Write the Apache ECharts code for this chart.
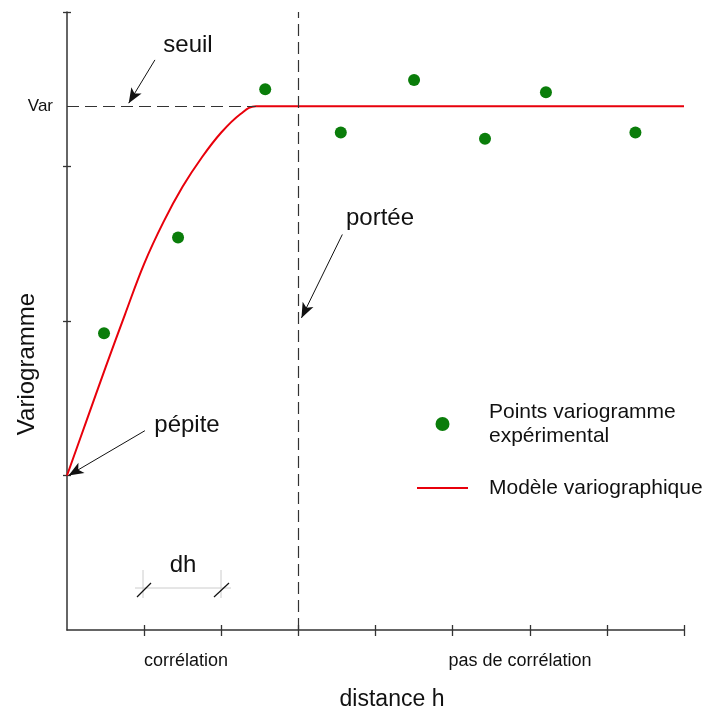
<!DOCTYPE html>
<html>
<head>
<meta charset="utf-8">
<script src="https://cdn.jsdelivr.net/npm/echarts@6/dist/echarts.min.js"></script>
<style>
  html, body { margin: 0; padding: 0; background: #fff; }
  #chart { width: 703px; height: 715px; }
</style>
</head>
<body>
<div id="chart"></div>
<script>
// modèle (courbe rouge)
const modelH = [0, 0.25, 0.5, 0.75, 1.0, 1.25, 1.5, 1.75, 2.0, 2.25, 2.45, 8]
const modelV = [1.0, 1.35, 1.7, 2.04, 2.37, 2.64, 2.87, 3.06, 3.22, 3.34, 3.39, 3.39]
// points du variogramme expérimental
const pointsH = [0.48, 1.44, 2.57, 3.55, 4.5, 5.42, 6.21, 7.37]
const pointsV = [1.92, 2.54, 3.5, 3.22, 3.56, 3.18, 3.48, 3.22]
// niveaux
const varLevel = 3.39
const nuggetLevel = 1.0
const rangeH = 3
const sillEndH = 2.45
// graduations
const xTicks = [1, 2, 3, 4, 5, 6, 7, 8]
const yTicks = [1, 2, 3, 4]

const FONT = 'Liberation Sans, Arial, sans-serif'
const AXIS = '#333'
const DASH = { color: '#333', width: 1.2, type: [12, 6] }
const GREEN = '#0a7d0a'
const RED = '#e8000b'

let myChart = echarts.init(document.getElementById('chart'))

// flèche noire d'annotation
const arrow = function (from, to) {
  const ls = { color: '#111', width: 1, type: 'solid' }
  return [
    { coord: from, symbol: 'none', lineStyle: ls },
    { coord: to, symbol: 'arrow', symbolSize: [9, 15], lineStyle: ls },
  ]
}

const baseX = {
  type: 'value',
  min: 0,
  max: 8,
  interval: 1,
  axisLabel: { show: false },
  splitLine: { show: false },
}
const baseY = {
  type: 'value',
  min: 0,
  max: 4,
  interval: 1,
  axisLabel: { show: false },
  splitLine: { show: false },
}

myChart.setOption({
  animation: false,
  textStyle: { fontFamily: FONT },
  grid: { left: 67, top: 12, width: 617, height: 618 },
  xAxis: [
    Object.assign({}, baseX, {
      axisLine: { lineStyle: { color: AXIS, width: 1.5 } },
      axisTick: { customValues: xTicks, length: 6, lineStyle: { color: AXIS, width: 1.3 } },
    }),
    Object.assign({}, baseX, {
      position: 'bottom',
      axisLine: { show: false },
      axisTick: { customValues: xTicks, inside: true, length: 5, lineStyle: { color: AXIS, width: 1.3 } },
    }),
  ],
  yAxis: [
    Object.assign({}, baseY, {
      axisLine: { lineStyle: { color: AXIS, width: 1.5 } },
      axisTick: { customValues: yTicks, length: 4, lineStyle: { color: AXIS, width: 1.3 } },
    }),
    Object.assign({}, baseY, {
      position: 'left',
      axisLine: { show: false },
      axisTick: { customValues: yTicks, inside: true, length: 4, lineStyle: { color: AXIS, width: 1.3 } },
    }),
  ],
  legend: {
    orient: 'vertical',
    left: 412,
    top: 395,
    itemWidth: 51,
    itemHeight: 14,
    itemGap: 28,
    selectedMode: false,
    data: [
      { name: 'Points variogramme expérimental', icon: 'circle' },
      { name: 'Modèle variographique', icon: 'path://M0,6L51,6L51,8L0,8Z' },
    ],
    formatter: function (name) {
      return name.replace(' expérimental', '\nexpérimental')
    },
    textStyle: {
      fontFamily: FONT,
      fontSize: 21,
      lineHeight: 24,
      color: '#111',
      padding: [0, 0, 0, 16],
    },
  },
  series: [
    {
      name: 'Modèle variographique',
      type: 'line',
      smooth: 0.4,
      symbol: 'none',
      color: RED,
      itemStyle: { color: RED },
      lineStyle: { color: RED, width: 2 },
      data: modelH.map((h, i) => [h, modelV[i]]),
      z: 3,
    },
    {
      name: 'Points variogramme expérimental',
      type: 'scatter',
      symbol: 'circle',
      symbolSize: 12,
      color: GREEN,
      itemStyle: { color: GREEN, opacity: 1 },
      data: pointsH.map((h, i) => [h, pointsV[i]]),
      z: 4,
    },
    {
      // annotations : seuil, portée, flèches
      name: 'annotations',
      type: 'line',
      data: [],
      z: 2,
      markLine: {
        silent: true,
        animation: false,
        symbol: ['none', 'none'],
        label: { show: false },
        lineStyle: DASH,
        data: [
          [
            {
              coord: [0, varLevel],
              label: {
                show: true,
                position: 'start',
                formatter: 'Var',
                distance: 14,
                fontSize: 17,
                color: '#111',
                fontFamily: FONT,
              },
            },
            { coord: [sillEndH, varLevel] },
          ],
          [{ coord: [rangeH, 0] }, { coord: [rangeH, 4] }],
          arrow([1.14, 3.69], [0.8, 3.41]),
          arrow([3.57, 2.56], [3.04, 2.02]),
          arrow([1.01, 1.29], [0.02, nuggetLevel]),
        ],
      },
    },
  ],
  graphic: [
    { type: 'text', x: 188, y: 45, style: { text: 'seuil', font: '24px ' + FONT, fill: '#111', align: 'center', verticalAlign: 'middle' } },
    { type: 'text', x: 380, y: 218, style: { text: 'portée', font: '24px ' + FONT, fill: '#111', align: 'center', verticalAlign: 'middle' } },
    { type: 'text', x: 187, y: 425, style: { text: 'pépite', font: '24px ' + FONT, fill: '#111', align: 'center', verticalAlign: 'middle' } },
    { type: 'text', x: 183, y: 565, style: { text: 'dh', font: '24px ' + FONT, fill: '#111', align: 'center', verticalAlign: 'middle' } },
    { type: 'text', x: 186, y: 661, style: { text: 'corrélation', font: '18px ' + FONT, fill: '#111', align: 'center', verticalAlign: 'middle' } },
    { type: 'text', x: 520, y: 661, style: { text: 'pas de corrélation', font: '18px ' + FONT, fill: '#111', align: 'center', verticalAlign: 'middle' } },
    { type: 'text', x: 392, y: 700, style: { text: 'distance h', font: '23px ' + FONT, fill: '#111', align: 'center', verticalAlign: 'middle' } },
    { type: 'text', x: 27, y: 364, rotation: Math.PI / 2, style: { text: 'Variogramme', font: '24px ' + FONT, fill: '#111', align: 'center', verticalAlign: 'middle' } },
    // repère dh
    { type: 'line', shape: { x1: 135, y1: 588, x2: 231, y2: 588 }, style: { stroke: '#ccc', lineWidth: 1 } },
    { type: 'line', shape: { x1: 143, y1: 570, x2: 143, y2: 598 }, style: { stroke: '#ccc', lineWidth: 1 } },
    { type: 'line', shape: { x1: 221, y1: 570, x2: 221, y2: 598 }, style: { stroke: '#ccc', lineWidth: 1 } },
    { type: 'line', shape: { x1: 137, y1: 597, x2: 151, y2: 583 }, style: { stroke: '#111', lineWidth: 1.2 } },
    { type: 'line', shape: { x1: 214, y1: 597, x2: 229, y2: 583 }, style: { stroke: '#111', lineWidth: 1.2 } },
  ],
})
</script>
</body>
</html>
